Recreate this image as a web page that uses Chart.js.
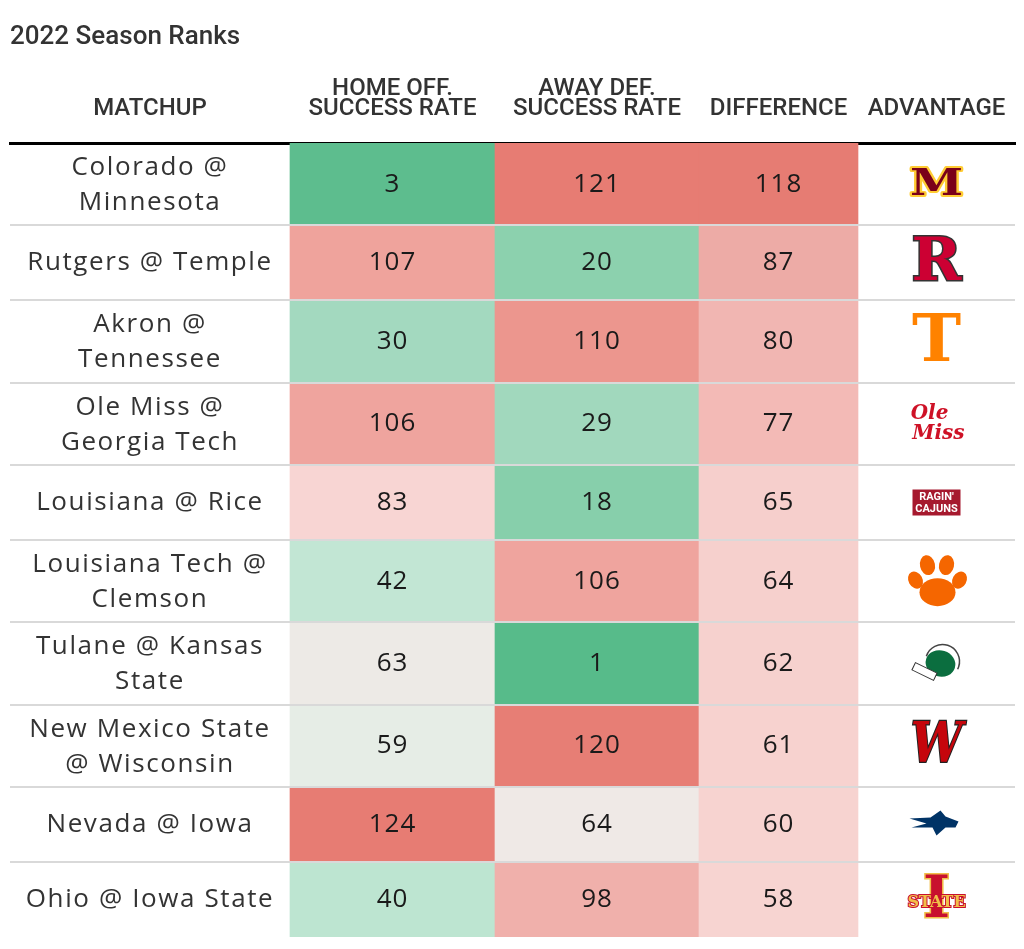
<!DOCTYPE html>
<html>
<head>
<meta charset="utf-8">
<script src="https://cdn.jsdelivr.net/npm/chart.js@4.4.1/dist/chart.umd.min.js"></script>
<style>
  html, body { margin: 0; padding: 0; background: #fff; }
  #wrap { width: 1024px; height: 949px; }
</style>
</head>
<body>
<div id="wrap"><canvas id="chart"></canvas></div>
<script>
// table content
const matchups = [
  ["Colorado @", "Minnesota"],
  ["Rutgers @ Temple"],
  ["Akron @", "Tennessee"],
  ["Ole Miss @", "Georgia Tech"],
  ["Louisiana @ Rice"],
  ["Louisiana Tech @", "Clemson"],
  ["Tulane @ Kansas", "State"],
  ["New Mexico State", "@ Wisconsin"],
  ["Nevada @ Iowa"],
  ["Ohio @ Iowa State"]
];
const homeOffRank = [3, 107, 30, 106, 83, 42, 63, 59, 124, 40];
const awayDefRank = [121, 20, 110, 29, 18, 106, 1, 120, 64, 98];
const difference = [118, 87, 80, 77, 65, 64, 62, 61, 60, 58];
const advantage = ["Minnesota", "Rutgers", "Tennessee", "Ole Miss", "Louisiana",
  "Clemson", "Tulane", "Wisconsin", "Nevada", "Iowa State"];
const headers = [["MATCHUP"], ["HOME OFF.", "SUCCESS RATE"], ["AWAY DEF.", "SUCCESS RATE"],
  ["DIFFERENCE"], ["ADVANTAGE"]];

// layout (px units along the x scale) and colour scales
const COL_EDGES = [0, 280, 485, 689, 848, 1005];
const rowH = matchups.map(m => m.length > 1 ? 82.33 : 75);
const rowTop = [];
let acc = 0;
rowH.forEach(h => { rowTop.push(acc); acc += h; });
const totalH = acc;

const rankStops = [[1, '#57bb8a'], [18, '#87cfab'], [30, '#a3d9bf'], [41, '#c0e6d3'],
  [59, '#e6ede6'], [64, '#efe9e6'], [83, '#f8d5d3'], [98, '#f0b0ab'], [107, '#efa39c'],
  [110, '#ec968e'], [121, '#e77c73']];
const diffStops = [[58, '#f7d4d1'], [65, '#f6cfcc'], [77, '#f3bab6'], [80, '#f1b6b2'],
  [87, '#edaba6'], [118, '#e67c73']];

function hexRgb(h) {
  return [1, 3, 5].map(i => parseInt(h.slice(i, i + 2), 16));
}
function scaleColor(stops, v) {
  if (v <= stops[0][0]) return stops[0][1];
  for (let i = 1; i < stops.length; i++) {
    if (v <= stops[i][0]) {
      const [v0, c0] = stops[i - 1], [v1, c1] = stops[i];
      const t = (v - v0) / (v1 - v0);
      const a = hexRgb(c0), b = hexRgb(c1);
      return 'rgb(' + a.map((x, k) => Math.round(x + (b[k] - x) * t)).join(',') + ')';
    }
  }
  return stops[stops.length - 1][1];
}

const valueCols = [homeOffRank, awayDefRank, difference];

const datasets = matchups.map((m, r) => ({
  label: m.join(' '),
  data: valueCols.map((col, c) => ({ x: [COL_EDGES[c + 1], COL_EDGES[c + 2]], y: rowTop[r] + rowH[r] / 2 })),
  backgroundColor: valueCols.map((col, c) => c < 2 ? scaleColor(rankStops, col[r]) : scaleColor(diffStops, col[r])),
  barThickness: rowH[r],
  grouped: false,
  borderWidth: 0
}));

// simple stand-ins for the team logos
const logos = {
  "Minnesota": (ctx, cx, cy) => {
    ctx.save(); ctx.translate(cx, cy + 1); ctx.scale(1.2, 0.95);
    ctx.font = 'bold 40px "DejaVu Serif"';
    ctx.lineWidth = 4; ctx.strokeStyle = '#ffcc33'; ctx.lineJoin = 'round';
    ctx.strokeText('M', 0, 0);
    ctx.fillStyle = '#7a0019'; ctx.fillText('M', 0, 0);
    ctx.restore();
  },
  "Rutgers": (ctx, cx, cy) => {
    ctx.font = 'bold 60px "DejaVu Serif"';
    ctx.lineWidth = 3; ctx.strokeStyle = '#333';
    ctx.strokeText('R', cx, cy + 2);
    ctx.fillStyle = '#cc0033'; ctx.fillText('R', cx, cy + 2);
  },
  "Tennessee": (ctx, cx, cy) => {
    ctx.font = 'bold 66px "DejaVu Serif"';
    ctx.fillStyle = '#ff8200'; ctx.fillText('T', cx, cy + 2);
  },
  "Ole Miss": (ctx, cx, cy) => {
    ctx.font = 'italic bold 20px "DejaVu Serif"';
    ctx.fillStyle = '#ce1126';
    ctx.fillText('Ole', cx - 7, cy - 10);
    ctx.fillText('Miss', cx + 2, cy + 10);
  },
  "Louisiana": (ctx, cx, cy) => {
    ctx.fillStyle = '#a6192e';
    ctx.fillRect(cx - 24, cy - 13, 48, 26);
    ctx.font = 'bold 11px Roboto';
    ctx.fillStyle = '#fff';
    ctx.fillText("RAGIN'", cx, cy - 5.5);
    ctx.fillText('CAJUNS', cx, cy + 6.5);
  },
  "Clemson": (ctx, cx, cy) => {
    ctx.fillStyle = '#f56600';
    const blob = (x, y, rx, ry, rot) => { ctx.beginPath(); ctx.ellipse(x, y, rx, ry, rot, 0, Math.PI * 2); ctx.fill(); };
    blob(cx + 1, cy + 11, 18, 14, 0);
    blob(cx - 21, cy - 1, 7, 9, -0.5);
    blob(cx - 9, cy - 16, 7.5, 10, -0.2);
    blob(cx + 10, cy - 16, 7.5, 10, 0.2);
    blob(cx + 23, cy - 1, 7, 9, 0.5);
  },
  "Tulane": (ctx, cx, cy) => {
    ctx.strokeStyle = '#444'; ctx.lineWidth = 1.5;
    ctx.beginPath(); ctx.arc(cx + 6, cy - 2, 17, Math.PI * 1.1, Math.PI * 2.15); ctx.stroke();
    ctx.fillStyle = '#0b6e3f';
    ctx.beginPath(); ctx.ellipse(cx + 4, cy, 15, 13, 0.3, 0, Math.PI * 2); ctx.fill();
    ctx.save(); ctx.translate(cx - 12, cy + 8); ctx.rotate(0.45);
    ctx.fillStyle = '#fff'; ctx.strokeStyle = '#333'; ctx.lineWidth = 1;
    ctx.fillRect(-12, -4, 24, 8); ctx.strokeRect(-12, -4, 24, 8);
    ctx.restore();
  },
  "Wisconsin": (ctx, cx, cy) => {
    ctx.save(); ctx.translate(cx, cy + 2); ctx.scale(1, 1.2);
    ctx.font = 'italic bold 46px "DejaVu Serif"';
    ctx.lineWidth = 2; ctx.strokeStyle = '#222';
    ctx.strokeText('W', 0, 0);
    ctx.fillStyle = '#c5050c'; ctx.fillText('W', 0, 0);
    ctx.restore();
  },
  "Nevada": (ctx, cx, cy) => {
    ctx.fillStyle = '#003366';
    const pts = [[-27, -6], [-6, -7], [4, -14], [9, -8], [22, -3], [19, 3], [9, 3],
      [0, 11], [-4, 3], [-25, 3], [-10, -1]];
    ctx.beginPath();
    pts.forEach(([px, py], i) => i ? ctx.lineTo(cx + px, cy + py) : ctx.moveTo(cx + px, cy + py));
    ctx.closePath(); ctx.fill();
  },
  "Iowa State": (ctx, cx, cy) => {
    ctx.font = 'bold 58px "DejaVu Serif"';
    ctx.lineWidth = 3; ctx.strokeStyle = '#f1be48';
    ctx.strokeText('I', cx, cy + 2);
    ctx.fillStyle = '#c8102e'; ctx.fillText('I', cx, cy + 2);
    ctx.font = 'bold 16px "DejaVu Serif"';
    ctx.lineWidth = 2; ctx.strokeStyle = '#c8102e';
    ctx.strokeText('STATE', cx, cy + 3);
    ctx.fillStyle = '#f1be48'; ctx.fillText('STATE', cx, cy + 3);
  }
};

const tableText = {
  id: 'tableText',
  afterDraw(chart) {
    const { ctx, scales: { x, y } } = chart;
    const colCenter = c => x.getPixelForValue((COL_EDGES[c] + COL_EDGES[c + 1]) / 2);
    ctx.save();
    ctx.textAlign = 'center';
    ctx.textBaseline = 'middle';

    ctx.font = '400 26px "Open Sans"';
    ctx.letterSpacing = '1.6px';
    ctx.fillStyle = '#333';
    matchups.forEach((lines, r) => {
      const cy = y.getPixelForValue(rowTop[r] + rowH[r] / 2) + (lines.length > 1 ? 1 : 0);
      lines.forEach((t, j) => ctx.fillText(t, colCenter(0), cy + (j - (lines.length - 1) / 2) * 35));
    });

    ctx.letterSpacing = '1px';
    ctx.fillStyle = '#1a1a1a';
    chart.data.datasets.forEach((ds, r) => {
      chart.getDatasetMeta(r).data.forEach((bar, c) => {
        const p = bar.getCenterPoint();
        ctx.fillText(String(valueCols[c][r]), p.x, p.y);
      });
    });

    ctx.letterSpacing = '0px';
    advantage.forEach((team, r) => {
      const cy = y.getPixelForValue(rowTop[r] + rowH[r] / 2);
      ctx.save();
      logos[team](ctx, colCenter(4), cy);
      ctx.restore();
    });
    ctx.restore();
  }
};

new Chart(document.getElementById('chart'), {
  type: 'bar',
  data: { datasets },
  options: {
    indexAxis: 'y',
    responsive: true,
    maintainAspectRatio: false,
    animation: false,
    events: [],
    layout: { padding: { left: 10, right: 9, top: 0, bottom: 12 } },
    plugins: {
      legend: { display: false },
      tooltip: { enabled: false },
      title: {
        display: true,
        text: '2022 Season Ranks',
        align: 'start',
        color: '#333',
        font: { family: 'Roboto', size: 26, weight: '500', lineHeight: 1.2 },
        padding: { top: 22.3, bottom: 0 }
      }
    },
    scales: {
      x: {
        type: 'linear',
        position: 'top',
        min: 0,
        max: COL_EDGES[COL_EDGES.length - 1],
        stacked: false,
        offset: false,
        grid: { display: false, drawTicks: false },
        border: { display: true, color: '#000', width: 3 },
        ticks: {
          autoSkip: false,
          maxRotation: 0,
          padding: 24.5,
          color: '#333',
          font: { family: 'Roboto', size: 24, weight: '500', lineHeight: '20px' },
          callback: (v, i) => headers[i]
        },
        afterBuildTicks: s => {
          s.ticks = COL_EDGES.slice(0, -1).map((e, i) => ({ value: (e + COL_EDGES[i + 1]) / 2 }));
        },
        afterFit: s => {
          s.height = 143 - 53.5;
          s.paddingLeft = 0;
          s.paddingRight = 0;
        }
      },
      y: {
        type: 'linear',
        reverse: true,
        offset: false,
        min: 0,
        max: totalH,
        grid: { color: '#d9d9d9', lineWidth: 2, drawTicks: false, offset: false, z: 1 },
        border: { display: false },
        ticks: { display: false },
        afterBuildTicks: s => {
          s.ticks = rowTop.slice(1).map(v => ({ value: v }));
        },
        afterFit: s => { s.width = 0; }
      }
    }
  },
  plugins: [tableText]
});
</script>
</body>
</html>
